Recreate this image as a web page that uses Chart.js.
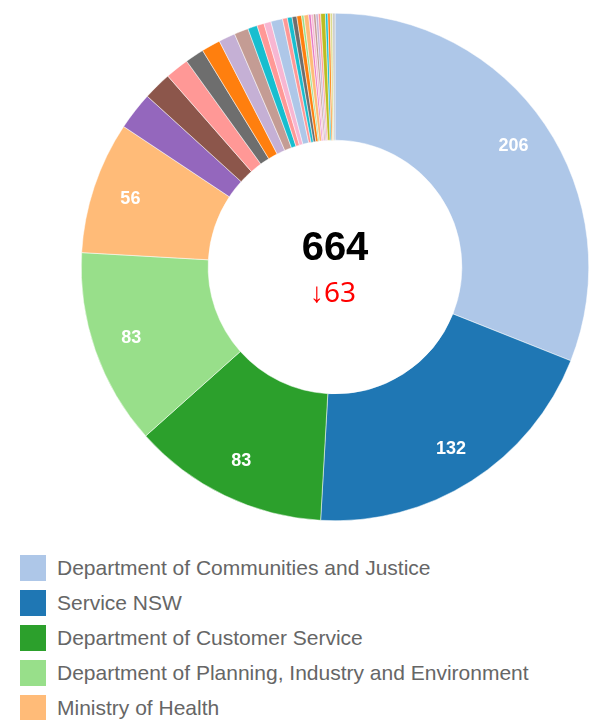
<!DOCTYPE html>
<html>
<head>
<meta charset="utf-8">
<title>Complaints by agency</title>
<script src="https://cdn.jsdelivr.net/npm/chart.js@4.4.0/dist/chart.umd.min.js"></script>
<style>
    html, body { margin: 0; padding: 0; background: #fff; overflow: hidden; }
    #chartBox { position: relative; width: 589px; height: 540px; }
    #legend {
        list-style: none;
        margin: 0;
        padding: 15px 0 0 20px;
        font: 21px "Liberation Sans", Arial, sans-serif;
        color: #666;
    }
    #legend li { display: flex; align-items: center; height: 26px; margin-bottom: 9px; white-space: nowrap; }
    #legend .swatch { width: 26px; height: 26px; margin-right: 11px; flex: none; }
</style>
</head>
<body>
<div id="chartBox"><canvas id="agencyChart"></canvas></div>
<ul id="legend"></ul>
<script>
const agencies = [
    'Department of Communities and Justice',
    'Service NSW',
    'Department of Customer Service',
    'Department of Planning, Industry and Environment',
    'Ministry of Health',
    'Transport for NSW',
    'NSW Police Force',
    'Department of Education',
    'Department of Premier and Cabinet',
    'NSW Treasury',
    'Revenue NSW',
    'Fire and Rescue NSW',
    'NSW Rural Fire Service',
    'Legal Aid NSW',
    'Property NSW',
    'Sydney Trains',
    'NSW Ambulance',
    'Create NSW',
    'Office of Sport',
    'Local Land Services',
    'NSW Fair Trading',
    'Landcom',
    'Sydney Water',
    'Hunter Water',
    'Office of the Valuer General',
    'NSW Electoral Commission',
    'State Archives and Records',
    'Independent Pricing and Regulatory Tribunal',
    'Audit Office of NSW',
    'Multicultural NSW',
    'Aboriginal Affairs NSW',
    'Venues NSW'
];

const counts = [
    206, 132, 83, 83, 56,
    16, 12, 10, 8, 8, 7, 6, 4, 3, 3, 5,
    2, 2, 2, 2, 1, 2, 1, 1, 1, 1, 1, 2, 1, 1, 1, 1
];

const sliceColours = [
    '#aec7e8', '#1f77b4', '#2ca02c', '#98df8a', '#ffbb78',
    '#9467bd', '#8c564b', '#ff9896', '#6e6e6e', '#ff7f0e', '#c5b0d5', '#c49c94',
    '#17becf', '#ff9896', '#f7b6d2', '#aec7e8',
    '#ff9896', '#17becf', '#6e6e6e', '#ff7f0e', '#98df8a', '#ffbb78', '#e377c2',
    '#f7b6d2', '#c49c94', '#c5b0d5', '#ff9896', '#bcbd22', '#17becf', '#ff7f0e',
    '#dbdb8d', '#c7c7c7'
];

// change against the previous period, shown under the total
const changeFromPrevious = -63;

const total = counts.reduce((a, b) => a + b, 0);

// big number + change in the hole
const centreText = {
    id: 'centreText',
    afterDatasetsDraw(chart) {
        const ctx = chart.ctx;
        const arc = chart.getDatasetMeta(0).data[0];
        ctx.save();
        ctx.textAlign = 'center';
        ctx.textBaseline = 'alphabetic';
        ctx.fillStyle = '#000';
        ctx.font = 'bold 40px "Liberation Sans", Arial, sans-serif';
        ctx.fillText(String(total), arc.x, arc.y - 7);
        ctx.fillStyle = '#ff0000';
        ctx.font = '28px "Noto Sans", sans-serif';
        const arrow = changeFromPrevious < 0 ? '\u2193' : '\u2191';
        ctx.fillText(arrow + Math.abs(changeFromPrevious), arc.x - 2, arc.y + 35);
        ctx.restore();
    }
};

// value labels on the bigger slices only
const sliceValues = {
    id: 'sliceValues',
    afterDatasetsDraw(chart) {
        const ctx = chart.ctx;
        const values = chart.data.datasets[0].data;
        ctx.save();
        ctx.font = 'bold 18px "Liberation Sans", Arial, sans-serif';
        ctx.fillStyle = '#fff';
        ctx.textAlign = 'center';
        ctx.textBaseline = 'middle';
        chart.getDatasetMeta(0).data.forEach((arc, i) => {
            if (values[i] / total < 0.05) return;
            const p = arc.getProps(['x', 'y', 'startAngle', 'endAngle', 'innerRadius', 'outerRadius']);
            const mid = (p.startAngle + p.endAngle) / 2;
            const r = p.innerRadius + (p.outerRadius - p.innerRadius) * 0.7;
            ctx.fillText(String(values[i]), p.x + Math.cos(mid) * r, p.y + Math.sin(mid) * r);
        });
        ctx.restore();
    }
};

const htmlLegend = {
    id: 'htmlLegend',
    afterUpdate(chart) {
        const list = document.querySelector('#legend');
        list.innerHTML = '';
        const items = chart.options.plugins.legend.labels.generateLabels(chart);
        items.forEach(item => {
            const li = document.createElement('li');
            li.innerHTML = `<span class="swatch" style="background:${item.fillStyle}"></span><span>${item.text}</span>`;
            list.appendChild(li);
        });
    }
};

const config = {
    type: 'doughnut',
    data: {
        labels: agencies,
        datasets: [{
            data: counts,
            backgroundColor: sliceColours,
            borderColor: '#fff',
            borderWidth: 0.5
        }]
    },
    options: {
        responsive: true,
        maintainAspectRatio: false,
        animation: false,
        cutout: '50%',
        layout: {
            padding: { left: 81, top: 13, right: 0, bottom: 19 }
        },
        plugins: {
            legend: { display: false },
            tooltip: { enabled: true }
        }
    },
    plugins: [centreText, sliceValues, htmlLegend]
};

new Chart(document.querySelector('#agencyChart'), config);
</script>
</body>
</html>
